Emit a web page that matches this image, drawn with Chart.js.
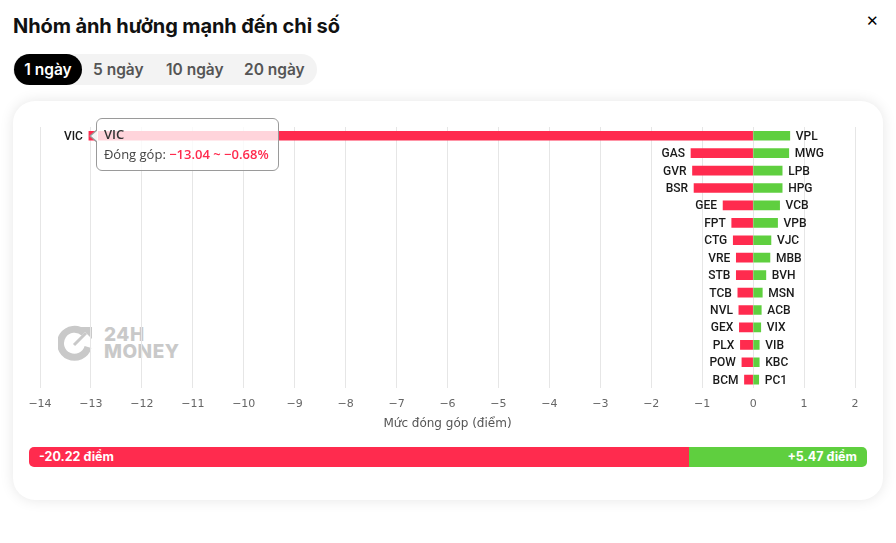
<!DOCTYPE html>
<html lang="vi">
<head>
<meta charset="utf-8">
<title>Nhóm ảnh hưởng mạnh đến chỉ số</title>
<script src="https://cdn.jsdelivr.net/npm/chart.js@4.4.1/dist/chart.umd.min.js"></script>
<style>
  body { margin: 0; background: #fff; font-family: Inter, Roboto, sans-serif; width: 896px; height: 543px; position: relative; overflow: hidden; }
  .title { position: absolute; left: 13px; top: 14px; font-size: 20px; font-weight: 700; color: #111; letter-spacing: -0.1px; }
  .close { position: absolute; left: 866px; top: 12px; font-family: 'DejaVu Sans', sans-serif; font-size: 15px; font-weight: 700; color: #000; }
  .tabs { position: absolute; left: 13px; top: 54px; width: 304px; height: 31px; background: #f3f3f3; border-radius: 16px; }
  .tab { position: absolute; top: 0; height: 31px; line-height: 31px; font-size: 15.5px; font-weight: 600; color: #555; }
  .tab.active { left: 1px; width: 68px; text-align: center; background: #000; color: #fff; border-radius: 16px; }
  .card { position: absolute; left: 13px; top: 101px; width: 870px; height: 399px; background: #fff; border-radius: 22px; box-shadow: 0 0 14px rgba(0,0,0,0.1); }
  .chart-box { position: absolute; left: 0; top: 0; width: 870px; height: 336px; }
  .watermark { position: absolute; left: 45px; top: 224px; color: #c9c9c9; display: flex; align-items: center; }
  .watermark .txt { margin-left: 10px; font-family: Inter, sans-serif; font-weight: 800; font-size: 19px; line-height: 17px; letter-spacing: 0.5px; }
  .tip { position: absolute; width: 181px; height: 51px; background: rgba(255,255,255,0.8); border: 1px solid #9a9a9a; border-radius: 6px; font-family: 'Open Sans', sans-serif; display: none; }
  .tip::before { content: ''; position: absolute; left: -8px; top: 10px; border-style: solid; border-width: 7px 8px 7px 0; border-color: transparent #9a9a9a transparent transparent; }
  .tip::after { content: ''; position: absolute; left: -6px; top: 11px; border-style: solid; border-width: 6px 7px 6px 0; border-color: transparent rgba(255,255,255,0.9) transparent transparent; }
  .tip .t { position: absolute; left: 7px; top: 6px; font-size: 13px; font-weight: 600; color: #333; }
  .tip .b { position: absolute; left: 7px; top: 26px; font-size: 13px; color: #444; white-space: nowrap; }
  .tip .b span { color: #ff2b4e; font-weight: 600; }
  .total { position: absolute; left: 16px; top: 346px; width: 838px; height: 20px; display: flex; border-radius: 5px; overflow: hidden; font-size: 12.5px; font-weight: 700; color: #fff; line-height: 20px; }
  .total div { box-sizing: border-box; }
  .total .neg { background: #ff2b4e; padding-left: 10px; }
  .total .pos { background: #5fcf3f; text-align: right; padding-right: 10px; }
</style>
</head>
<body>
<div class="title">Nhóm ảnh hưởng mạnh đến chỉ số</div>
<div class="close">✕</div>
<div class="tabs">
  <div class="tab active">1 ngày</div>
  <div class="tab" style="left:80px">5 ngày</div>
  <div class="tab" style="left:153px">10 ngày</div>
  <div class="tab" style="left:231px">20 ngày</div>
</div>
<div class="card">
  <div class="watermark">
    <svg width="36" height="36" viewBox="0 0 36 36">
      <path d="M26 8 A14 14 0 1 0 30 22" fill="none" stroke="#c9c9c9" stroke-width="7"/>
      <path d="M22 2 L34 2 L34 14 Z" fill="#c9c9c9"/>
      <path d="M16 20 L28 8" stroke="#c9c9c9" stroke-width="3"/>
    </svg>
    <div class="txt">24H<br>MONEY</div>
  </div>
  <div class="chart-box"><canvas id="chart"></canvas></div>
  <div class="tip" id="tip"><div class="t" id="tipTitle"></div><div class="b" id="tipBody"></div></div>
  <div class="total" id="total"></div>
</div>
<script>
// top decliners (left side) and top gainers (right side), one pair per row
const negNames = ['VIC', 'GAS', 'GVR', 'BSR', 'GEE', 'FPT', 'CTG', 'VRE', 'STB', 'TCB', 'NVL', 'GEX', 'PLX', 'POW', 'BCM'];
const negValues = [-13.04, -1.22, -1.19, -1.16, -0.59, -0.42, -0.39, -0.33, -0.33, -0.30, -0.28, -0.27, -0.25, -0.22, -0.17];
const posNames = ['VPL', 'MWG', 'LPB', 'HPG', 'VCB', 'VPB', 'VJC', 'MBB', 'BVH', 'MSN', 'ACB', 'VIX', 'VIB', 'KBC', 'PC1'];
const posValues = [0.72, 0.70, 0.57, 0.57, 0.52, 0.48, 0.35, 0.33, 0.25, 0.18, 0.16, 0.15, 0.12, 0.12, 0.11];
const hoverIndex = 0;
const hoverPercent = -0.68;
const totalNeg = -20.22;
const totalPos = 5.47;

const RED = '#ff2b4e';
const GREEN = '#5fcf3f';

const fmt = v => (v < 0 ? '\u2212' : '') + Math.abs(v);
const fmt2 = v => (v < 0 ? '\u2212' : '') + Math.abs(v).toFixed(2);

// names written at the outer end of each bar
const barNames = {
  id: 'barNames',
  afterDatasetsDraw(chart) {
    const ctx = chart.ctx;
    ctx.save();
    ctx.font = '500 12px Roboto, sans-serif';
    ctx.fillStyle = '#1a1a1a';
    ctx.textBaseline = 'middle';
    chart.getDatasetMeta(0).data.forEach((bar, i) => {
      ctx.textAlign = 'right';
      ctx.fillText(negNames[i], bar.x - 6, bar.y + 1);
    });
    chart.getDatasetMeta(1).data.forEach((bar, i) => {
      ctx.textAlign = 'left';
      ctx.fillText(posNames[i], bar.x + 6, bar.y + 1);
    });
    ctx.restore();
  },
  afterDraw(chart) {
    const bar = chart.getDatasetMeta(0).data[hoverIndex];
    const tip = document.getElementById('tip');
    document.getElementById('tipTitle').textContent = negNames[hoverIndex];
    document.getElementById('tipBody').innerHTML = 'Đóng góp: <span>' + fmt2(negValues[hoverIndex]) + ' ~ ' + fmt2(hoverPercent) + '%</span>';
    tip.style.left = (bar.x + 7) + 'px';
    tip.style.top = (bar.y - 18) + 'px';
    tip.style.display = 'block';
  }
};

new Chart(document.getElementById('chart'), {
  type: 'bar',
  data: {
    labels: negNames,
    datasets: [
      { label: 'Giảm', data: negValues, backgroundColor: RED, barThickness: 9 },
      { label: 'Tăng', data: posValues, backgroundColor: GREEN, barThickness: 9 }
    ]
  },
  options: {
    indexAxis: 'y',
    responsive: true,
    maintainAspectRatio: false,
    animation: false,
    layout: { padding: { left: 27, right: 28, top: 26, bottom: 6 } },
    plugins: {
      legend: { display: false },
      tooltip: { enabled: false }
    },
    scales: {
      y: { stacked: true, display: false },
      x: {
        stacked: true,
        min: -14,
        max: 2,
        border: { display: false },
        grid: { color: '#e6e6e6', drawTicks: false },
        ticks: {
          stepSize: 1,
          padding: 9,
          maxRotation: 0,
          autoSkip: false,
          color: '#666',
          font: { family: 'DejaVu Sans', size: 11 },
          callback: v => fmt(v)
        },
        title: {
          display: true,
          text: 'Mức đóng góp (điểm)',
          color: '#555',
          font: { family: 'DejaVu Sans', size: 12 },
          padding: { top: -3, bottom: 0 }
        }
      }
    }
  },
  plugins: [barNames]
});

const total = document.getElementById('total');
const sum = Math.abs(totalNeg) + totalPos;
total.innerHTML = '<div class="neg" style="width:' + (Math.abs(totalNeg) / sum * 100) + '%">' + totalNeg.toFixed(2) + ' điểm</div>' +
  '<div class="pos" style="width:' + (totalPos / sum * 100) + '%">+' + totalPos.toFixed(2) + ' điểm</div>';
</script>
</body>
</html>
